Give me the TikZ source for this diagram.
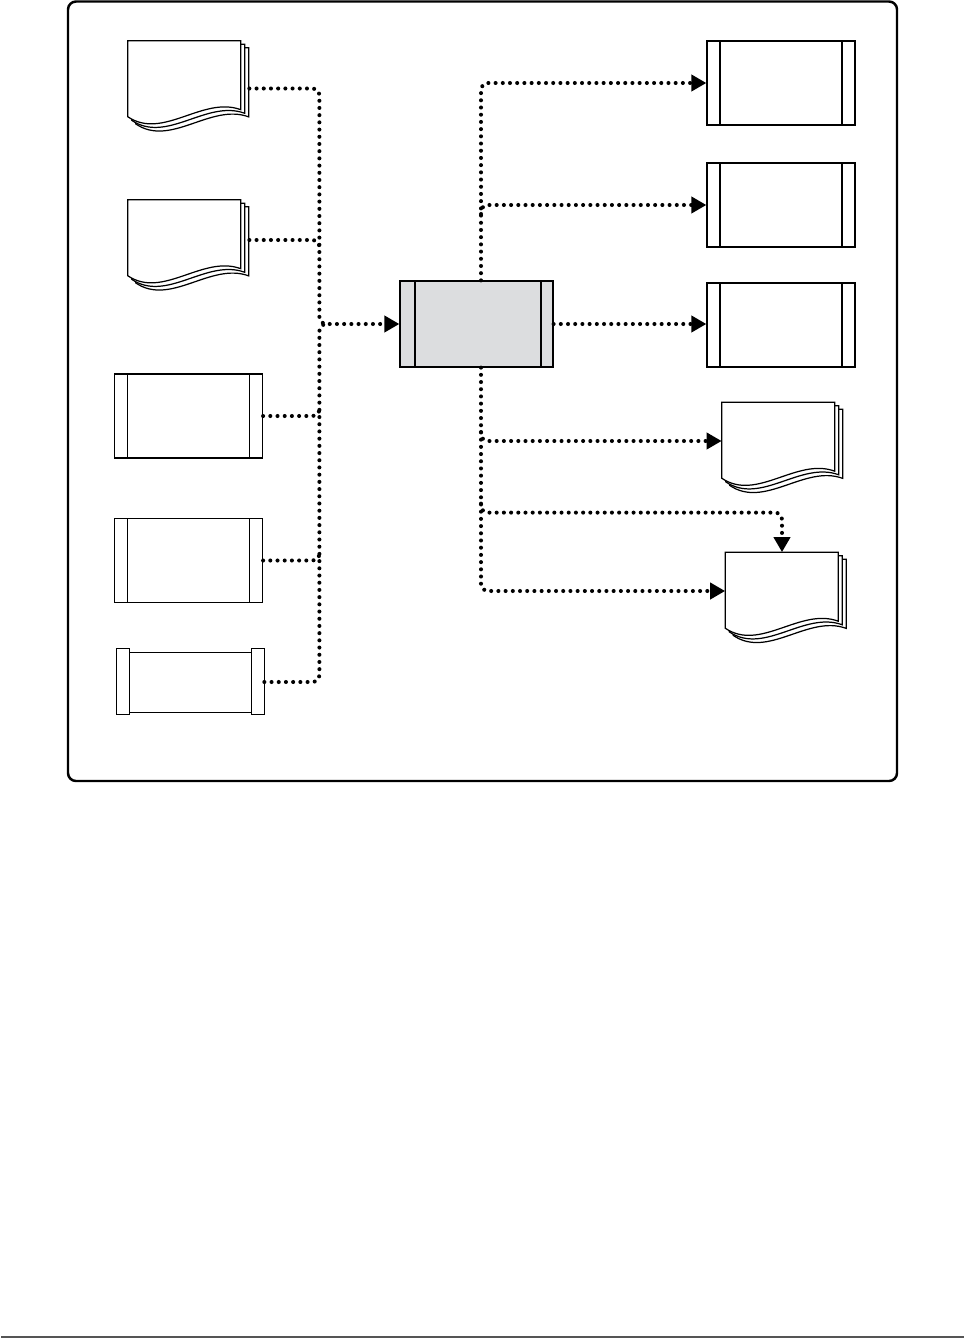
\documentclass[tikz,border=0pt]{standalone}
\usepackage{tikz}
\usetikzlibrary{arrows.meta,calc}
\definecolor{ink}{RGB}{0,0,0}
\definecolor{coregray}{RGB}{220,221,223}
\definecolor{rulegray}{RGB}{85,85,85}
\tikzset{
  boxline/.style={draw=ink,line width=0.7pt},
  procbox/.style={boxline,fill=white,minimum width=2.96cm,minimum height=1.68cm,inner sep=0pt,
    path picture={\draw[boxline] ([xshift=0.26cm]path picture bounding box.north west) -- ([xshift=0.26cm]path picture bounding box.south west)
      ([xshift=-0.26cm]path picture bounding box.north east) -- ([xshift=-0.26cm]path picture bounding box.south east);}},
  corebox/.style={boxline,fill=coregray,minimum width=3.06cm,minimum height=1.72cm,inner sep=0pt,
    path picture={\draw[draw=ink,line width=1.3pt] ([xshift=0.3cm]path picture bounding box.north west) -- ([xshift=0.3cm]path picture bounding box.south west);
      \draw[boxline] ([xshift=-0.24cm]path picture bounding box.north east) -- ([xshift=-0.24cm]path picture bounding box.south east);}},
  docstack/.style={minimum width=2.26cm,minimum height=1.54cm,inner sep=0pt,
    append after command={\pgfextra{
      \foreach \o in {8,4,0}{
        \draw[boxline,fill=white] ($(\tikzlastnode.north west)+(\o,{0.9*\o})$) -- ++(113,0) -- ++(0,69)
          .. controls +(-38,-14) and +(35,24) .. ++(-113,7) -- cycle;
      }}}},
  drum/.style={minimum width=2.94cm,minimum height=1.32cm,inner sep=0pt,
    append after command={\pgfextra{
      \draw[boxline,fill=white] ($(\tikzlastnode.north west)+(13,4)$) rectangle ($(\tikzlastnode.south east)+(-13,-3)$);
      \draw[boxline,fill=white] (\tikzlastnode.north west) rectangle ++(13,66);
      \draw[boxline,fill=white] (\tikzlastnode.north east) rectangle ++(-13,66);
    }}},
  flow/.style={draw=ink,line width=2.3pt,line cap=round,dash pattern=on 0pt off 4.1pt,rounded corners=0.14cm},
  flowarr/.style={flow,-{Triangle[length=0.3cm,width=0.32cm]}},
  frame/.style={draw=ink,line width=1.4pt,rounded corners=0.16cm}
}
\begin{document}
\begin{tikzpicture}[x=0.02cm,y=-0.02cm]
  \useasboundingbox (0,0) rectangle (965,1339);
  \draw[frame] (68,1.5) rectangle (897,781);
  % inputs
  \node[docstack] (in1) at (184.5,79.5) {};
  \node[docstack] (in2) at (184.5,238.5) {};
  \node[procbox] (in3) at (188.5,416) {};
  \node[procbox] (in4) at (188.5,560.5) {};
  \node[drum] (in5) at (190.5,682) {};
  % core
  \node[corebox] (core) at (476.5,324) {};
  % outputs
  \node[procbox] (out1) at (781,83) {};
  \node[procbox] (out2) at (781,205) {};
  \node[procbox] (out3) at (781,325) {};
  \node[docstack] (out4) at (778.5,441) {};
  \node[docstack] (out5) at (782,591) {};
  % junction points
  \coordinate (jl) at ($(core.west)+(-80,0)$);
  \coordinate (jt) at ($(core.north)+(4.5,0)$);
  \coordinate (jb) at ($(core.south)+(4.5,0)$);
  \coordinate (tap) at ($(jb)+(0,145)$);
  % left side
  \draw[flowarr] ($(in1.east)+(8,9)$) -| (jl) -- (core.west);
  \draw[flow] ($(in2.east)+(8,1.5)$) -| ($(jl|-in2.east)+(0,10)$);
  \draw[flow] (in3.east) -| ($(jl|-in3.east)+(0,-9)$);
  \draw[flow] (in4.east) -| ($(jl|-in4.east)+(0,-9)$);
  \draw[flow] (in5.east) -| (jl) -- ++(8,0);
  % right side
  \draw[flowarr] (jt) |- (out1.west);
  \draw[flowarr] ($(jt|-out2.west)+(0,9)$) |- (out2.west);
  \draw[flowarr] (core.east) -- (core.east-|out3.west);
  \draw[flowarr] ($(jb|-out4.west)+(0,-9)$) |- (out4.west);
  \draw[flowarr] ($(tap)+(0,-9)$) |- (tap-|out5.north) -- (out5.north);
  \draw[flowarr] (jb) |- (out5.west);
  \draw[rulegray,line width=1.1pt] (1,1337) -- (964,1337);
\end{tikzpicture}
\end{document}
